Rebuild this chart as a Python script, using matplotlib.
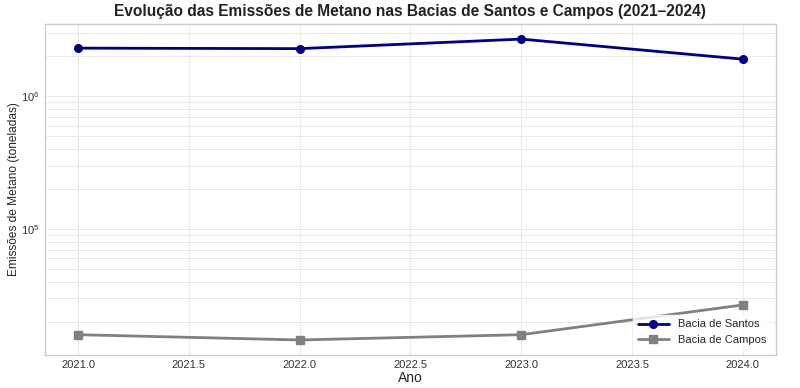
import matplotlib
matplotlib.use("Agg")
import matplotlib.pyplot as plt

anos = [2021, 2022, 2023, 2024]
santos = [2.30e6, 2.28e6, 2.69e6, 1.90e6]
campos = [1.60e4, 1.46e4, 1.60e4, 2.68e4]

plt.style.use('seaborn-v0_8-whitegrid')
plt.rcParams['font.family'] = ['Liberation Sans', 'DejaVu Sans']

fig, ax = plt.subplots(figsize=(8, 3.88), dpi=100)
ax.plot(anos, santos, marker='o', color='navy', linewidth=2, markersize=5.5, label='Bacia de Santos')
ax.plot(anos, campos, marker='s', color='gray', linewidth=2, markersize=5.5, label='Bacia de Campos')
ax.set_yscale('log')
ax.grid(True, which='both', color='#d8d8d8', linestyle=(0, (2, 1.2)), linewidth=0.6)

ax.set_title('Evolução das Emissões de Metano nas Bacias de Santos e Campos (2021–2024)',
             fontsize=11.2, fontweight='bold', color='#222222')
ax.set_xlabel('Ano', fontsize=10, labelpad=1)
ax.set_ylabel('Emissões de Metano (toneladas)', fontsize=8.6, labelpad=1)
ax.tick_params(labelsize=8, colors='#333333')
ax.legend(loc='lower right', fontsize=8, frameon=True, edgecolor='white', handlelength=2.8)

plt.subplots_adjust(left=0.056, right=0.97, top=0.938, bottom=0.085)
plt.savefig('out.png', dpi=100)
